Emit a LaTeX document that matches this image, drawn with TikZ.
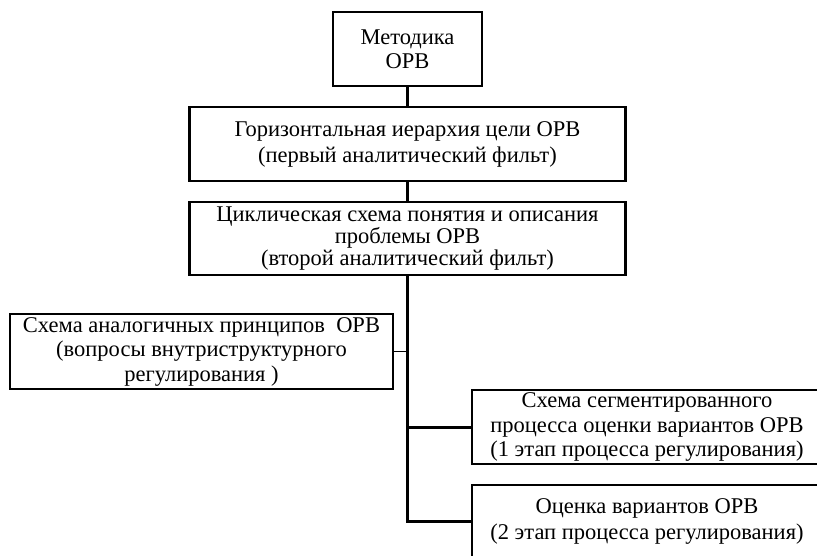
\documentclass[tikz,border=0pt]{standalone}
\usepackage{fontspec}
\setmainfont{Liberation Serif}
\begin{document}
\begin{tikzpicture}[x=1pt,y=-1pt,
    blok/.style={draw,line width=2.6pt,align=center,inner sep=0pt,
      font=\fontsize{22.5}{24.5}\selectfont},
    svyaz/.style={line width=3pt}]
      \useasboundingbox (0,0) rectangle (817,555);
      \clip (0,0) rectangle (817,555);
      \draw
        (407.5,49) node[blok,minimum width=149,minimum height=74] (metod){Методика\\ОРВ}
        (407.5,144) node[blok,minimum width=436,minimum height=74,font=\fontsize{22.5}{26}\selectfont] (gor){Горизонтальная иерархия цели ОРВ\\(первый аналитический фильт)}
        (407.5,238.5) node[blok,minimum width=436,minimum height=73,font=\fontsize{22.5}{22}\selectfont] (cikl){Циклическая схема понятия и описания\\проблемы ОРВ\\(второй аналитический фильт)}
        (201.5,351.5) node[blok,minimum width=383,minimum height=75] (analog){Схема аналогичных принципов \ ОРВ\\(вопросы внутриструктурного\\регулирования )}
        (647,427) node[blok,minimum width=350,minimum height=74] (segm){Схема сегментированного\\процесса оценки вариантов ОРВ\\(1 этап процесса регулирования)}
        (647,521.5) node[blok,minimum width=350,minimum height=73] (ocen){Оценка вариантов ОРВ\\[2pt](2 этап процесса регулирования)};
      \begin{scope}[svyaz]
        \draw (metod) to (gor);
        \draw (gor) to (cikl);
        \draw (cikl.south) |- (ocen.west);
        \draw (segm.west) -- (segm.west -| cikl.south);
      \end{scope}
      \draw[line width=1.2pt] (analog.east) -- (analog.east -| cikl.south);
    \end{tikzpicture}
\end{document}
